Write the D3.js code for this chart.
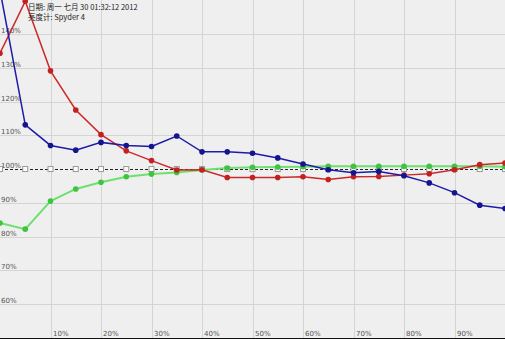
<!DOCTYPE html>
<html>
<head>
<meta charset="utf-8">
<script src="https://cdn.jsdelivr.net/npm/d3@7"></script>
<style>
  html, body { margin: 0; padding: 0; background: #efefef; }
  svg { display: block; }
  text { font-family: "DejaVu Sans", sans-serif; }
</style>
</head>
<body>
<svg id="chart" width="505" height="339"></svg>
<script>
'use strict';

// input level (%) for each measurement
var levels = [0, 5, 10, 15, 20, 25, 30, 35, 40, 45, 50, 55, 60, 65, 70, 75, 80, 85, 90, 95, 100];

var blueValues = [153, 113.1, 107.0, 105.6, 107.9, 107.0, 106.7, 109.8, 105.1, 105.1, 104.7,
  103.3, 101.5, 99.8, 98.9, 99.3, 98.0, 95.9, 93.0, 89.3, 88.3];
var redValues = [134.3, 149.7, 129.1, 117.5, 110.2, 105.4, 102.5, 99.7, 99.8, 97.5, 97.5,
  97.5, 97.7, 96.9, 97.7, 97.8, 98.2, 98.6, 99.8, 101.3, 101.8];
var greenValues = [84.0, 82.2, 90.5, 94.1, 96.1, 97.7, 98.5, 99.0, 99.7, 100.3, 100.5,
  100.6, 100.7, 100.8, 100.8, 100.8, 100.8, 100.8, 100.8, 100.8, 100.7];
var refValues = [100, 100, 100, 100, 100, 100, 100, 100, 100, 100, 100,
  100, 100, 100, 100, 100, 100, 100, 100, 100, 100];

var xTicks = [10, 20, 30, 40, 50, 60, 70, 80, 90];
var yTicks = [60, 70, 80, 90, 100, 110, 120, 130, 140];

var infoLines = ['日期: 周一 七月 30 01:32:12 2012', '亮度计: Spyder 4'];

var svg = d3.select('#chart');
var width = +svg.attr('width');
var height = +svg.attr('height');

var x = d3.scaleLinear().domain([0, 100]).range([0, 505]);
var y = d3.scaleLinear().domain([50, 150]).range([337.8, 0.3]);

svg.append('rect')
  .attr('width', width)
  .attr('height', height)
  .attr('fill', '#efefef');

// grid
svg.append('g')
  .selectAll('line')
  .data(xTicks)
  .enter()
  .append('line')
  .attr('x1', function (d) { return Math.round(x(d)) + 0.5; })
  .attr('x2', function (d) { return Math.round(x(d)) + 0.5; })
  .attr('y1', 0)
  .attr('y2', height)
  .attr('stroke', '#d4d4d4');

svg.append('g')
  .selectAll('line')
  .data(yTicks.filter(function (d) { return d !== 100; }))
  .enter()
  .append('line')
  .attr('x1', 0)
  .attr('x2', width)
  .attr('y1', function (d) { return Math.round(y(d)) + 0.5; })
  .attr('y2', function (d) { return Math.round(y(d)) + 0.5; })
  .attr('stroke', '#d4d4d4');

// axis labels
svg.append('g')
  .selectAll('text')
  .data(yTicks)
  .enter()
  .append('text')
  .attr('x', 1)
  .attr('y', function (d) { return Math.round(y(d)) - 1; })
  .attr('font-size', 7)
  .attr('fill', '#555')
  .text(function (d) { return d + '%'; });

svg.append('g')
  .selectAll('text')
  .data(xTicks)
  .enter()
  .append('text')
  .attr('x', function (d) { return Math.round(x(d)) + 2; })
  .attr('y', 336)
  .attr('font-size', 7)
  .attr('fill', '#555')
  .text(function (d) { return d + '%'; });

// reference line (dashed) at 100%
svg.append('line')
  .attr('x1', 0)
  .attr('x2', width)
  .attr('y1', Math.round(y(100)) + 0.5)
  .attr('y2', Math.round(y(100)) + 0.5)
  .attr('stroke', '#222')
  .attr('stroke-dasharray', '3,2');

var line = d3.line()
  .x(function (d, i) { return x(levels[i]); })
  .y(function (d) { return y(d); });

function drawSeries(values, lineColor, dotColor, lineWidth) {
  svg.append('path')
    .datum(values)
    .attr('d', line)
    .attr('fill', 'none')
    .attr('stroke', lineColor)
    .attr('stroke-width', lineWidth);
  svg.append('g')
    .selectAll('circle')
    .data(values)
    .enter()
    .append('circle')
    .attr('cx', function (d, i) { return x(levels[i]); })
    .attr('cy', function (d) { return y(d); })
    .attr('r', 2.8)
    .attr('fill', dotColor);
}

// reference squares
svg.append('g')
  .selectAll('rect')
  .data(refValues)
  .enter()
  .append('rect')
  .attr('x', function (d, i) { return x(levels[i]) - 2.5; })
  .attr('y', function (d) { return y(d) - 2.5; })
  .attr('width', 5)
  .attr('height', 5)
  .attr('fill', '#fff')
  .attr('stroke', '#999');

drawSeries(greenValues, '#6ee06e', '#3fc43f', 2);
drawSeries(redValues, '#cc2a2a', '#c42020', 1.5);
drawSeries(blueValues, '#1c1ca8', '#14148c', 1.5);

// info text
svg.append('g')
  .selectAll('text')
  .data(infoLines)
  .enter()
  .append('text')
  .attr('x', 28)
  .attr('y', function (d, i) { return 10 + i * 10; })
  .attr('font-size', 7.5)
  .attr('fill', '#222')
  .style('font-family', '"Noto Sans CJK SC", sans-serif')
  .text(function (d) { return d; });

// bottom border
svg.append('line')
  .attr('x1', 0)
  .attr('x2', width)
  .attr('y1', height - 0.5)
  .attr('y2', height - 0.5)
  .attr('stroke', '#111');
</script>
</body>
</html>
